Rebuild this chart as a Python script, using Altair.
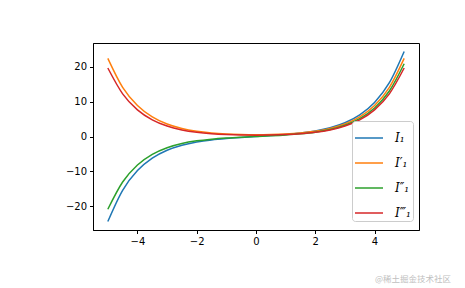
import altair as alt
import pandas as pd

x_vals = [-5.0, -4.5, -4.0, -3.5, -3.0, -2.5, -2.0, -1.5, -1.0, -0.5, 0.0,
          0.5, 1.0, 1.5, 2.0, 2.5, 3.0, 3.5, 4.0, 4.5, 5.0]
i1 = [-24.34, -15.39, -9.76, -6.21, -3.95, -2.52, -1.59, -0.98, -0.57, -0.26, 0.0,
      0.26, 0.57, 0.98, 1.59, 2.52, 3.95, 6.21, 9.76, 15.39, 24.34]
i1_d1 = [22.37, 14.06, 8.86, 5.61, 3.56, 2.28, 1.48, 0.99, 0.70, 0.55, 0.50,
         0.55, 0.70, 0.99, 1.48, 2.28, 3.56, 5.61, 8.86, 14.06, 22.37]
i1_d2 = [-20.84, -13.02, -8.15, -5.11, -3.21, -2.01, -1.25, -0.76, -0.43, -0.19, 0.0,
         0.19, 0.43, 0.76, 1.25, 2.01, 3.21, 5.11, 8.15, 13.02, 20.84]
i1_d3 = [19.61, 12.22, 7.63, 4.77, 2.99, 1.89, 1.21, 0.79, 0.54, 0.41, 0.375,
         0.41, 0.54, 0.79, 1.21, 1.89, 2.99, 4.77, 7.63, 12.22, 19.61]

series_names = ["I₁", "I′₁", "I″₁", "I‴₁"]
series_colors = ["#1f77b4", "#ff7f0e", "#2ca02c", "#d62728"]
x_ticks = [-4, -2, 0, 2, 4]
y_ticks = [-20, -10, 0, 10, 20]
watermark = "@稀土掘金技术社区"

rows = []
for name, vals in zip(series_names, [i1, i1_d1, i1_d2, i1_d3]):
    for xv, yv in zip(x_vals, vals):
        rows.append({"x": xv, "y": yv, "series": name})
df = pd.DataFrame(rows)

minus = "replace(datum.label, '-', '\u2212')"

lines = alt.Chart(df).mark_line(strokeWidth=1.5, interpolate="monotone").encode(
    x=alt.X("x:Q", scale=alt.Scale(domain=[-5.5, 5.5], nice=False, zero=False),
            axis=alt.Axis(values=x_ticks, labelExpr=minus, title=None, grid=False,
                          tickSize=3.5, tickColor="black", domainColor="black",
                          labelColor="black", labelFontSize=10, labelFont="DejaVu Sans",
                          labelPadding=3)),
    y=alt.Y("y:Q", scale=alt.Scale(domain=[-26.77, 26.77], nice=False, zero=False),
            axis=alt.Axis(values=y_ticks, labelExpr=minus, title=None, grid=False,
                          tickSize=3.5, tickColor="black", domainColor="black",
                          labelColor="black", labelFontSize=10, labelFont="DejaVu Sans",
                          labelPadding=3)),
    color=alt.Color("series:N", sort=series_names,
                    scale=alt.Scale(domain=series_names, range=series_colors),
                    legend=alt.Legend(
                        title=None, orient="none", legendX=259, legendY=78,
                        symbolType="stroke", symbolSize=784, symbolStrokeWidth=1.5,
                        labelFont="DejaVu Serif", labelFontStyle="italic",
                        labelFontSize=12, labelColor="black", rowPadding=4,
                        strokeColor="#cccccc", fillColor="white", padding=2,
                        cornerRadius=3, labelOffset=11)),
)

wm = alt.Chart(pd.DataFrame({"t": [watermark]})).mark_text(
    align="right", baseline="middle", fontSize=8.5, color="#c0c0c0",
    font="Noto Sans CJK SC"
).encode(text="t:N", x=alt.value(358), y=alt.value(236))

chart = alt.layer(lines, wm).properties(
    width=326, height=187,
    background="white",
    padding={"left": 93, "top": 43, "right": 46, "bottom": 58},
    autosize=alt.AutoSizeParams(type="none"),
).configure_view(stroke="black", strokeWidth=1)

chart.save("out.html", embed_options={"renderer": "svg", "actions": False})
